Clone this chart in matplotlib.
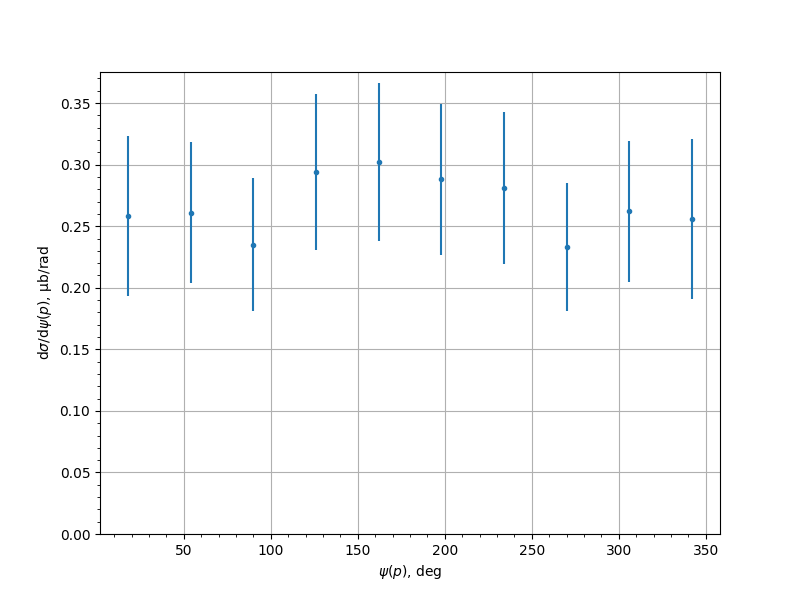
import numpy as np
import matplotlib
matplotlib.use('Agg')
import matplotlib.pyplot as plt
from matplotlib.ticker import AutoMinorLocator

# bin centres, deg
psi = [18, 54, 90, 126, 162, 198, 234, 270, 306, 342]
# cross section, mub/rad
xsec = [0.258, 0.261, 0.235, 0.294, 0.302, 0.288, 0.281, 0.233, 0.262, 0.256]
xsec_err = [0.065, 0.057, 0.054, 0.063, 0.064, 0.061, 0.062, 0.052, 0.057, 0.065]

fig, ax = plt.subplots(figsize=(8, 6), dpi=100)
ax.errorbar(psi, xsec, yerr=xsec_err, fmt='.')
ax.set_ylim(bottom=0)
ax.xaxis.set_minor_locator(AutoMinorLocator(5))
ax.yaxis.set_minor_locator(AutoMinorLocator(5))
ax.grid(True)
ax.set_xlabel(r'$\psi(p)$, deg')
ax.set_ylabel(r'd$\sigma$/d$\psi(p)$, $\mathrm{\mu}$b/rad')
fig.savefig('out.png')
